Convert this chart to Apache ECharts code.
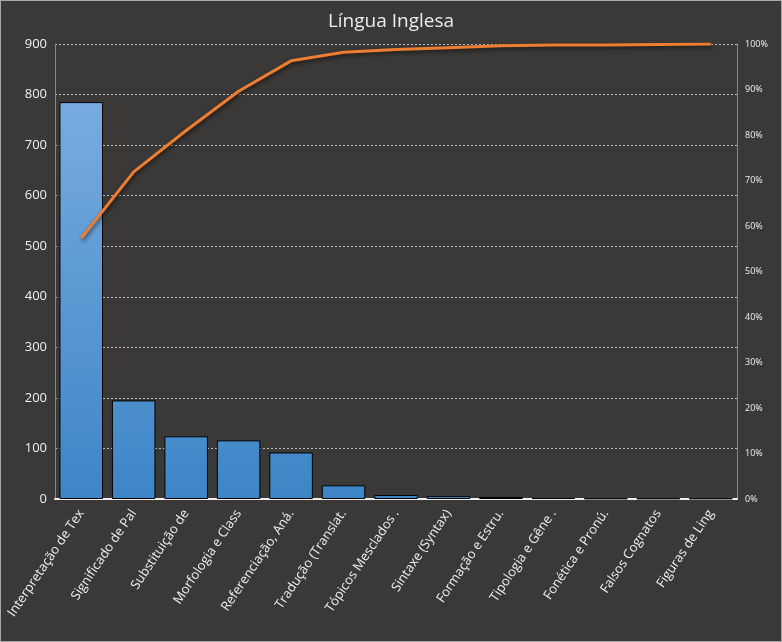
<!DOCTYPE html>
<html>
<head>
<meta charset="utf-8">
<script src="https://cdn.jsdelivr.net/npm/echarts@6/dist/echarts.min.js"></script>
<style>
html,body{margin:0;padding:0;background:#3a3937;}
#c{width:780px;height:640px;border:1px solid #a8a8a8;}
</style>
</head>
<body>
<div id="c"></div>
<script>
var categories = ["Interpretação de Tex","Significado de Pal","Substituição de","Morfologia e Class","Referenciação, Aná.","Tradução (Translat.","Tópicos Mesclados .","Sintaxe (Syntax)","Formação e Estru.","Tipologia e Gêne .","Fonética e Pronú.","Falsos Cognatos","Figuras de Ling"];
var counts = [785, 195, 124, 116, 92, 27, 8, 6, 4, 2, 1, 1, 1];
var cumulative = [0.573, 0.719, 0.810, 0.896, 0.963, 0.982, 0.988, 0.992, 0.996, 0.998, 0.998, 0.999, 1.0];
var leftTicks = {min: 0, max: 900, interval: 100};
var rightTicks = {min: 0, max: 1, interval: 0.1};

var chart = echarts.init(document.getElementById('c'));
var font = '"Open Sans", "Noto Sans", sans-serif';
chart.setOption({
  backgroundColor: '#3a3937',
  animation: false,
  title: {
    text: 'Língua Inglesa', left: 'center', top: 6,
    textStyle: {color: '#ececec', fontSize: 19, fontWeight: 'normal', fontFamily: font}
  },
  grid: {left: 54, right: 44, top: 43, bottom: 142},
  xAxis: {
    type: 'category', data: categories,
    axisLine: {lineStyle: {color: '#f0f0f0', width: 2}},
    axisTick: {show: false},
    axisLabel: {color: '#f0f0f0', fontSize: 13, fontFamily: font, rotate: 56, interval: 0, margin: 12}
  },
  yAxis: [
    {
      type: 'value', min: leftTicks.min, max: leftTicks.max, interval: leftTicks.interval,
      axisLine: {show: true, lineStyle: {color: '#8a8a8a'}},
      axisTick: {show: false},
      axisLabel: {color: '#f0f0f0', fontSize: 13, fontFamily: font, margin: 8},
      splitLine: {show: true, lineStyle: {color: '#bdbdbd', type: [2, 2], width: 1}}
    },
    {
      type: 'value', min: rightTicks.min, max: rightTicks.max, interval: rightTicks.interval,
      position: 'right',
      axisLine: {show: true, lineStyle: {color: '#8a8a8a'}},
      axisTick: {show: false},
      splitLine: {show: false},
      axisLabel: {color: '#f0f0f0', fontSize: 9, fontFamily: font, margin: 8,
        formatter: function (v) { return Math.round(v * 100) + '%'; }}
    }
  ],
  series: [
    {
      type: 'bar', data: counts, yAxisIndex: 0, barCategoryGap: '17%',
      itemStyle: {
        borderColor: '#000', borderWidth: 1,
        color: new echarts.graphic.LinearGradient(0, 44, 0, 499, [
          {offset: 0, color: '#80b1e3'},
          {offset: 1, color: '#3d85c6'}
        ], true)
      }
    },
    {
      type: 'line', data: cumulative, yAxisIndex: 1, symbol: 'none',
      lineStyle: {color: '#ed7d31', width: 3, shadowColor: 'rgba(0,0,0,0.6)', shadowBlur: 4, shadowOffsetY: 2, shadowOffsetX: 1}
    }
  ]
});
</script>
</body>
</html>
